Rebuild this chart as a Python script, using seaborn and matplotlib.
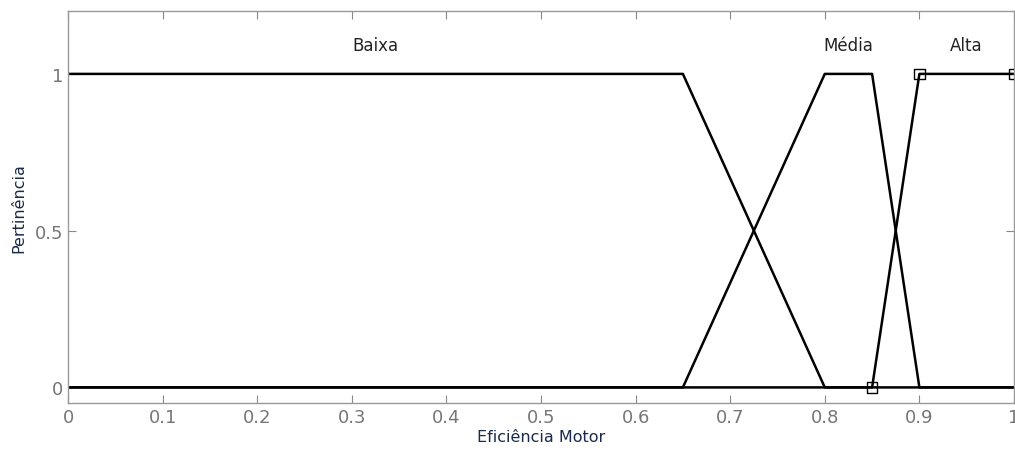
import numpy as np
import pandas as pd
import seaborn as sns
import matplotlib
matplotlib.use('Agg')
import matplotlib.pyplot as plt

# Funciones de pertinencia (trapezoidales)
nombres = ['Baixa', 'Média', 'Alta']
params = [(0.0, 0.0, 0.65, 0.8), (0.65, 0.8, 0.85, 0.9), (0.85, 0.9, 1.0, 1.0)]
x_ticks = [0, 0.1, 0.2, 0.3, 0.4, 0.5, 0.6, 0.7, 0.8, 0.9, 1]
y_ticks = [0, 0.5, 1]
# puntos marcados con cuadrados (Alta)
marcas_x = [0.85, 0.9, 1.0]
marcas_y = [0, 1, 1]


def trap(x, a, b, c, d):
    y = np.zeros_like(x)
    sube = (x > a) & (x < b)
    y[sube] = (x[sube] - a) / (b - a)
    y[(x >= b) & (x <= c)] = 1
    baja = (x > c) & (x < d)
    y[baja] = (d - x[baja]) / (d - c)
    return y


x = np.linspace(0, 1, 2001)
filas = []
for n, p in zip(nombres, params):
    filas.append(pd.DataFrame({'x': x, 'mu': trap(x, *p), 'mf': n}))
df = pd.concat(filas)

sns.set_style('white')
fig = plt.figure(figsize=(10.15, 4.52), dpi=100)
ax = fig.add_axes([0.067, 0.106, 0.932, 0.867])

sns.lineplot(data=df, x='x', y='mu', hue='mf', palette=['black'] * 3,
             linewidth=1.8, legend=False, ax=ax, sort=False, estimator=None)
sns.scatterplot(x=marcas_x, y=marcas_y, marker='s', s=60, facecolor='none',
                edgecolor='black', linewidth=1, ax=ax, zorder=5)

for n, p in zip(nombres, params):
    ax.text((p[1] + p[2]) / 2, 1.093, n, ha='center', va='center',
            fontsize=12, color='#222222')

ax.set_xlim(0, 1)
ax.set_ylim(-0.05, 1.2)
ax.set_xticks(x_ticks)
ax.set_xticklabels([str(t) for t in x_ticks])
ax.set_yticks(y_ticks)
ax.set_yticklabels([str(t) for t in y_ticks])
ax.tick_params(direction='in', length=6, colors='#888888', labelsize=13,
               bottom=True, left=True, top=True, right=True,
               labelcolor='#777777')
for s in ax.spines.values():
    s.set_color('#999999')
    s.set_linewidth(1)
ax.set_xlabel('Eficiência Motor', fontsize=11.5, color='#1a2a4a', labelpad=2)
ax.set_ylabel('Pertinência', fontsize=11.5, color='#1a2a4a', labelpad=6)

fig.savefig('out.png', dpi=100)
